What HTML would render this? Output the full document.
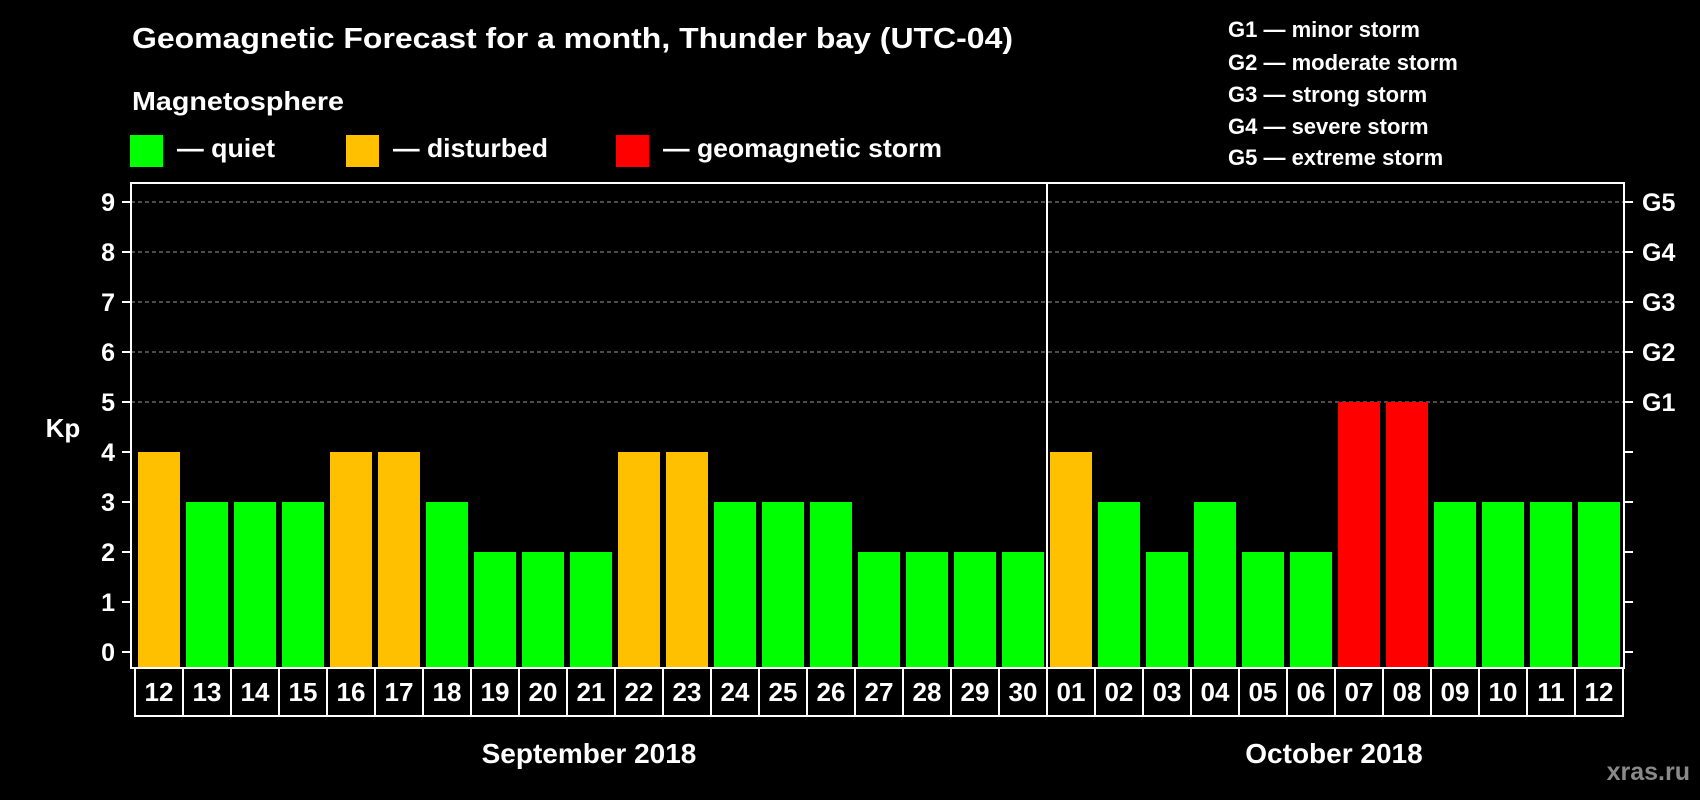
<!DOCTYPE html>
<html><head><meta charset="utf-8"><style>
html,body{margin:0;padding:0;background:#000;}
svg{display:block;font-family:"Liberation Sans",sans-serif;font-weight:bold;}
</style></head><body>
<svg id="chart" width="1700" height="800" viewBox="0 0 1700 800" xmlns="http://www.w3.org/2000/svg">
<rect width="1700" height="800" fill="#000"/>
<text x="132" y="48" font-size="29" fill="#fff" textLength="881" lengthAdjust="spacingAndGlyphs">Geomagnetic Forecast for a month, Thunder bay (UTC-04)</text>
<text x="132" y="110" font-size="26" fill="#fff" textLength="212" lengthAdjust="spacingAndGlyphs">Magnetosphere</text>
<g>
<rect x="130" y="135" width="33" height="32" fill="#00ff00"/>
<text x="177" y="157" font-size="26" fill="#fff" textLength="98" lengthAdjust="spacingAndGlyphs">— quiet</text></g>
<g>
<rect x="346" y="135" width="33" height="32" fill="#ffc000"/>
<text x="393" y="157" font-size="26" fill="#fff" textLength="155" lengthAdjust="spacingAndGlyphs">— disturbed</text></g>
<g>
<rect x="616" y="135" width="33" height="32" fill="#ff0000"/>
<text x="663" y="157" font-size="26" fill="#fff" textLength="279" lengthAdjust="spacingAndGlyphs">— geomagnetic storm</text></g>
<g font-size="22" fill="#fff">
<text x="1228" y="37">G1 — minor storm</text>
<text x="1228" y="70">G2 — moderate storm</text>
<text x="1228" y="102">G3 — strong storm</text>
<text x="1228" y="134">G4 — severe storm</text>
<text x="1228" y="165">G5 — extreme storm</text>
</g>
<text x="63" y="437" font-size="26" fill="#fff" text-anchor="middle">Kp</text>
<g id="grid"></g><g id="bars"></g><g id="axes"></g><g id="xlabels"></g>
<text x="589" y="763" font-size="28" fill="#fff" text-anchor="middle">September 2018</text>
<text x="1334" y="763" font-size="28" fill="#fff" text-anchor="middle">October 2018</text>
<text x="1690" y="780" font-size="25" fill="#8a8a8a" text-anchor="end">xras.ru</text>
</svg>
<script>
const days = ["12","13","14","15","16","17","18","19","20","21","22","23","24","25","26","27","28","29","30","01","02","03","04","05","06","07","08","09","10","11","12"];
const kpValues = [4,3,3,3,4,4,3,2,2,2,4,4,3,3,3,2,2,2,2,4,3,2,3,2,2,5,5,3,3,3,3];
const yTicks = [0,1,2,3,4,5,6,7,8,9];
const gLabels = ["G1","G2","G3","G4","G5"];
const monthSplitIndex = 19;

const NS = "http://www.w3.org/2000/svg";
const plotL = 131, plotR = 1624, plotT = 183, plotB = 668, boxB = 716;
const y0 = 652, unit = 50;
const barStart = 138, pitch = 48, barW = 42;
const yScale = v => y0 - v * unit;
const xScale = i => barStart + i * pitch;
function mk(tag, attrs, parent) {
  const el = document.createElementNS(NS, tag);
  for (const k in attrs) el.setAttribute(k, attrs[k]);
  parent.appendChild(el);
  return el;
}
const grid = document.getElementById("grid");
const bars = document.getElementById("bars");
const axes = document.getElementById("axes");
const xl = document.getElementById("xlabels");

yTicks.forEach(v => {
  const y = yScale(v);
  if (v >= 5) {
    const g = mk("line", {x1: plotL, x2: plotR, y1: y, y2: y, stroke: "#999", "stroke-width": 1, "stroke-dasharray": "4,3"}, grid);
    
    
  }
  const t = mk("line", {x1: plotL - 9, x2: plotL, y1: y, y2: y, stroke: "#fff", "stroke-width": 2}, axes);
  
  
  const t2 = mk("line", {x1: plotR, x2: plotR + 9, y1: y, y2: y, stroke: "#fff", "stroke-width": 2}, axes);
  
  
  const lb = mk("text", {x: 115, y: y + 9, "font-size": 25, fill: "#fff", "text-anchor": "end"}, axes);
  lb.textContent = v;
  
  
});
gLabels.forEach((g, i) => {
  const lb = mk("text", {x: 1642, y: yScale(5 + i) + 9, "font-size": 25, fill: "#fff"}, axes);
  lb.textContent = g;
  
  
});
kpValues.forEach((v, i) => {
  const col = v >= 5 ? "#ff0000" : (v >= 4 ? "#ffc000" : "#00ff00");
  const r = mk("rect", {x: xScale(i), y: yScale(v), width: barW, height: plotB - yScale(v), fill: col}, bars);
  
  
  const cx = xScale(i) - 3;
  const c = mk("rect", {x: cx, y: plotB, width: pitch, height: boxB - plotB, fill: "none", stroke: "#fff", "stroke-width": 2}, xl);
  
  
  const t = mk("text", {x: cx + pitch / 2, y: plotB + 33, "font-size": 26, fill: "#fff", "text-anchor": "middle"}, xl);
  t.textContent = days[i];
  
  
});
const frame = mk("rect", {x: plotL, y: plotT, width: plotR - plotL, height: plotB - plotT, fill: "none", stroke: "#fff", "stroke-width": 2}, axes);


const dx = xScale(monthSplitIndex) - 3;
const div = mk("line", {x1: dx, x2: dx, y1: plotT, y2: boxB, stroke: "#fff", "stroke-width": 2}, axes);


</script>
</body></html>
